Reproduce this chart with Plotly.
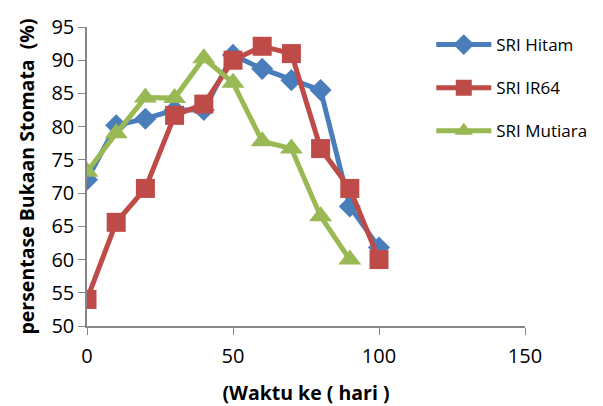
import plotly.graph_objects as go

# Observation days
days_hitam = [0, 10, 20, 30, 40, 50, 60, 70, 80, 90, 100]
days_ir64 = [0, 10, 20, 30, 40, 50, 60, 70, 80, 90, 100]
days_mutiara = [0, 10, 20, 30, 40, 50, 60, 70, 80, 90]

# Stomatal opening percentage per variety
sri_hitam = [72, 80.2, 81.2, 82.5, 82.5, 90.8, 88.7, 87, 85.5, 68, 61.8]
sri_ir64 = [54, 65.6, 70.7, 81.7, 83.4, 90, 92.1, 91, 76.7, 70.7, 60]
sri_mutiara = [73.2, 79, 84.4, 84.3, 90.3, 86.6, 77.8, 76.7, 66.5, 60]

x_ticks = [0, 50, 100, 150]
y_ticks = [50, 55, 60, 65, 70, 75, 80, 85, 90, 95]

FONT = "Open Sans"

fig = go.Figure()
fig.add_trace(go.Scatter(
    x=days_hitam, y=sri_hitam, name="SRI Hitam", mode="lines+markers",
    legendgroup="hitam",
    line=dict(color="#4A7EBB", width=5),
    marker=dict(symbol="diamond", size=17, color="#4A7EBB"),
))
fig.add_trace(go.Scatter(
    x=days_ir64, y=sri_ir64, name="SRI IR64", mode="lines+markers",
    legendgroup="ir64",
    line=dict(color="#BE4B48", width=5),
    marker=dict(symbol="square", size=19, color="#BE4B48"),
))
fig.add_trace(go.Scatter(
    x=days_mutiara, y=sri_mutiara, name="SRI Mutiara", mode="lines+markers",
    legendgroup="mutiara",
    line=dict(color="#98B954", width=5),
    marker=dict(symbol="triangle-up", size=20, color="#98B954"),
))

fig.update_layout(
    width=603, height=406,
    margin=dict(l=87, r=78, t=27, b=80, autoexpand=False),
    paper_bgcolor="white", plot_bgcolor="white",
    font=dict(family=FONT, size=17, color="black"),
    showlegend=True,
    legend=dict(
        x=0.786, y=1.0, xanchor="left", yanchor="top",
        font=dict(family=FONT, size=17, color="black"),
        bgcolor="rgba(0,0,0,0)", itemwidth=55, tracegroupgap=18,
    ),
)
fig.update_xaxes(
    range=[0, 150], tickvals=x_ticks, ticks="outside", ticklen=7,
    tickcolor="#868686", showline=True, linecolor="#868686", linewidth=1.5,
    showgrid=False, zeroline=False, automargin=False, ticklabelstandoff=4,
    tickfont=dict(family=FONT, size=20),
    title=dict(text="<b>(Waktu ke ( hari )</b>", font=dict(family=FONT, size=19.5), standoff=30),
)
fig.update_yaxes(
    range=[50, 95], tickvals=y_ticks, ticks="outside", ticklen=7,
    tickcolor="#868686", showline=True, linecolor="#868686", linewidth=1.5,
    showgrid=False, zeroline=False, automargin=False,
    tickfont=dict(family=FONT, size=20),
    title=dict(text="<b>persentase Bukaan Stomata  (%)</b>", font=dict(family=FONT, size=19.5), standoff=12),
)

fig.write_html("out.html")
